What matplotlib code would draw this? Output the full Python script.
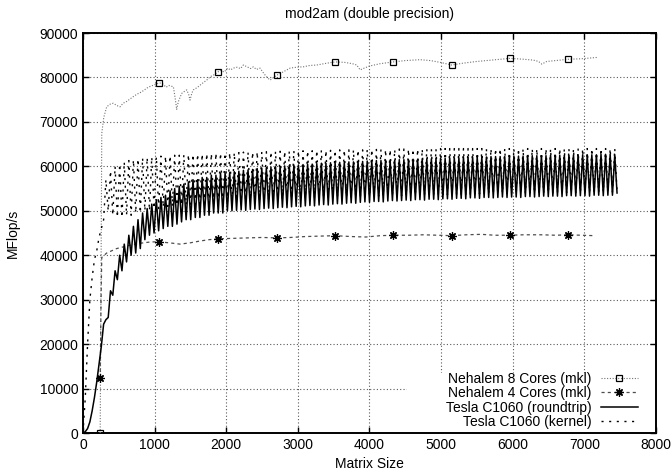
import numpy as np
import matplotlib
matplotlib.use("Agg")
import matplotlib.pyplot as plt
from matplotlib.patches import Rectangle

plt.rcParams["font.family"] = ["Liberation Sans", "DejaVu Sans"]
plt.rcParams["font.size"] = 10

# Nehalem 8 cores (mkl)
n8_size = [240, 250, 262, 290, 331, 380, 423, 470, 517, 560, 610, 660, 703, 750, 800,
           850, 890, 940, 990, 1066, 1110, 1160, 1200, 1262, 1290, 1308, 1330, 1378,
           1410, 1448, 1475, 1494, 1520, 1541, 1600, 1660, 1727, 1780, 1830, 1890,
           1930, 1970, 2020, 2060, 2099, 2150, 2200, 2239, 2290, 2340, 2379, 2420,
           2472, 2520, 2560, 2612, 2660, 2705, 2800, 2891, 2980, 3077, 3170, 3264,
           3400, 3520, 3650, 3760, 3822, 3869, 3940, 4008, 4150, 4334, 4500, 4707,
           4850, 4986, 5149, 5300, 5498, 5700, 5963, 6150, 6289, 6360, 6405, 6475,
           6600, 6778, 6950, 7175]
n8_mflops = [0, 30000, 67400, 71000, 73400, 74000, 74200, 73700, 73400, 74200, 74600,
             75200, 75700, 76200, 76600, 77100, 77600, 78000, 78300, 78800, 78600,
             77800, 78200, 77900, 75000, 72800, 74500, 76400, 76800, 77200, 76200,
             74900, 76500, 77200, 77800, 78600, 79400, 80200, 80600, 81300, 81600,
             81200, 82100, 81700, 82100, 82300, 82000, 82800, 82400, 82000, 82400,
             81800, 82100, 81000, 80200, 79400, 80000, 80500, 81300, 82100, 82300,
             82400, 82700, 82800, 83200, 83500, 83400, 83100, 82800, 81700, 82200,
             82600, 83100, 83500, 83800, 84000, 83800, 83400, 82800, 83200, 83600,
             83900, 84300, 84100, 83900, 83600, 83000, 83600, 83800, 84100, 84200,
             84500]

# Nehalem 4 cores (mkl)
n4_size = [240, 252, 262, 331, 470, 640, 800, 950, 1066, 1200, 1355, 1500, 1634, 1760,
           1890, 2100, 2300, 2500, 2705, 2900, 3100, 3300, 3520, 3750, 3950, 4150,
           4334, 4550, 4750, 4950, 5149, 5350, 5560, 5750, 5963, 6150, 6400, 6600,
           6778, 6950, 7150]
n4_mflops = [12300, 30000, 39500, 40500, 41500, 42200, 42700, 43000, 43000, 42800,
             42500, 42800, 43200, 43500, 43700, 43800, 43900, 44000, 43900, 44000,
             44200, 44300, 44400, 44200, 44100, 44400, 44500, 44500, 44600, 44500,
             44400, 44600, 44700, 44500, 44500, 44600, 44600, 44500, 44600, 44500,
             44400]

marked_sizes = [240, 1066, 1890, 2705, 3520, 4334, 5149, 5963, 6778]

# Tesla C1060, matrix sizes in steps of 32
tesla_size = np.arange(0, 7457, 32)
tesla_roundtrip = [
    0, 300, 1000, 2500, 5000, 8000, 11500, 15500, 19500, 24500, 25500, 26000, 32000, 31000, 36500, 34500,
    40000, 36500, 42500, 38500, 44500, 40000, 46500, 40500, 48000, 41500, 49500, 43500, 50500, 44500, 51500, 45000,
    52500, 45500, 53000, 46000, 53500, 46500, 54500, 46500, 55000, 47000, 55500, 47500, 56000, 48000, 56500, 48000,
    57000, 48500, 57000, 48500, 57500, 49000, 57500, 49000, 58000, 49500, 58000, 49500, 58500, 49500, 58500, 50000,
    58600, 50000, 58800, 50100, 58900, 50200, 59100, 50100, 59200, 50300, 59300, 50400, 59500, 50300, 59600, 50500,
    59700, 50600, 59800, 50500, 59900, 50700, 60000, 50800, 60100, 50700, 60200, 50900, 60300, 51000, 60300, 50900,
    60400, 51100, 60500, 51200, 60500, 51100, 60600, 51300, 60700, 51400, 60700, 51300, 60800, 51500, 60800, 51600,
    60900, 51500, 60900, 51700, 61000, 51800, 61000, 51700, 61100, 51900, 61100, 52000, 61200, 51900, 61200, 52100,
    61300, 52100, 61300, 52000, 61400, 52200, 61400, 52300, 61400, 52200, 61500, 52300, 61500, 52400, 61500, 52300,
    61600, 52500, 61600, 52500, 61700, 52400, 61700, 52600, 61700, 52600, 61800, 52500, 61800, 52700, 61800, 52700,
    61900, 52600, 61900, 52800, 61900, 52800, 62000, 52700, 62000, 52900, 62000, 52900, 62100, 52800, 62100, 53000,
    62100, 53000, 62200, 52900, 62200, 53000, 62200, 53100, 62200, 53000, 62300, 53100, 62300, 53100, 62300, 53000,
    62300, 53200, 62400, 53200, 62400, 53100, 62400, 53200, 62400, 53300, 62400, 53200, 62500, 53300, 62500, 53300,
    62500, 53200, 62500, 53400, 62500, 53400, 62600, 53300, 62600, 53400, 62600, 53400, 62600, 53300, 62600, 53500,
    62600, 53500, 62700, 53400, 62700, 53500, 62700, 53500, 62600, 54000,
]
tesla_kernel = [
    0, 8000, 20000, 30000, 35000, 39000, 41000, 44000, 46000, 48000, 57000, 50000, 59000, 49000, 60000, 48500,
    60500, 48500, 61000, 49000, 61300, 49000, 61500, 49500, 61700, 49500, 61900, 50000, 62000, 50000, 62100, 50500,
    62200, 50500, 62300, 50800, 62300, 51000, 62400, 51000, 62500, 51200, 62500, 51300, 62600, 51300, 62700, 51500,
    62700, 51500, 62800, 51600, 62800, 51700, 62900, 51700, 62900, 51800, 63000, 51900, 63000, 51900, 63000, 52000,
    63100, 52000, 63100, 52100, 63100, 52100, 63200, 52200, 63200, 52200, 63200, 52300, 63300, 52300, 63300, 52400,
    63300, 52400, 63300, 52500, 63400, 52500, 63400, 52500, 63400, 52600, 63400, 52600, 63500, 52700, 63500, 52700,
    63500, 52700, 63500, 52800, 63500, 52800, 63600, 52800, 63600, 52900, 63600, 52900, 63600, 52900, 63600, 53000,
    63700, 53000, 63700, 53000, 63700, 53100, 63700, 53100, 63700, 53100, 63700, 53200, 63800, 53200, 63800, 53200,
    63800, 53300, 63800, 53300, 63800, 53300, 63800, 53400, 63800, 53400, 63900, 53400, 63900, 53400, 63900, 53500,
    63900, 53500, 63900, 53500, 63900, 53500, 63900, 53600, 63900, 53600, 63900, 53600, 64000, 53600, 64000, 53600,
    64000, 53700, 64000, 53700, 64000, 53700, 64000, 53700, 64000, 53700, 64000, 53800, 64000, 53800, 64000, 53800,
    64000, 53800, 64000, 53800, 64000, 53800, 64000, 53900, 64000, 53900, 64000, 53900, 64000, 53900, 64000, 53900,
    64000, 53900, 64000, 54000, 64000, 54000, 64000, 54000, 64000, 54000, 64000, 54000, 64000, 54000, 64000, 54000,
    64000, 54000, 64000, 54100, 64000, 54100, 64000, 54100, 64000, 54100, 64000, 54100, 64000, 54100, 64000, 54100,
    64000, 54100, 64000, 54200, 64000, 54200, 64000, 54200, 64000, 54300,
]

x_ticks = [0, 1000, 2000, 3000, 4000, 5000, 6000, 7000, 8000]
y_ticks = [0, 10000, 20000, 30000, 40000, 50000, 60000, 70000, 80000, 90000]

fig = plt.figure(figsize=(6.72, 4.75), dpi=100)
ax = fig.add_axes([0.1235, 0.0884, 0.8527, 0.8421])

n8_marks = [i for i, s in enumerate(n8_size) if s in marked_sizes]
n4_marks = [i for i, s in enumerate(n4_size) if s in marked_sizes]

ax.plot(n8_size, n8_mflops, color="0.45", lw=0.8, ls=(0, (1, 1.5)),
        marker="s", ms=5, mfc="none", mec="black", mew=0.9, markevery=n8_marks,
        label="Nehalem 8 Cores (mkl)", zorder=3)
ax.plot(n4_size, n4_mflops, color="0.3", lw=0.9, ls=(0, (2.5, 2.5)),
        marker=(8, 2, 0), ms=6, mec="black", mew=0.9, markevery=n4_marks,
        label="Nehalem 4 Cores (mkl)", zorder=3)
ax.plot(tesla_size, tesla_roundtrip, color="black", lw=1.1,
        label="Tesla C1060 (roundtrip)", zorder=3)
ax.plot(tesla_size, tesla_kernel, color="black", lw=1.0, ls=(0, (1.5, 4)),
        label="Tesla C1060 (kernel)", zorder=3)

ax.set_xlim(0, 8000)
ax.set_ylim(0, 90000)
ax.set_xticks(x_ticks)
ax.set_yticks(y_ticks)
ax.grid(True, color="0.35", lw=0.8, ls=(0, (1, 2)))
ax.set_axisbelow(True)
ax.tick_params(direction="in", length=4, width=1, top=True, right=True, labelsize=10)
for sp in ax.spines.values():
    sp.set_linewidth(1.4)

# white key background hides the grid under the legend
ax.add_patch(Rectangle((0.566, 0.0), 0.434, 0.15, transform=ax.transAxes,
                       facecolor="white", edgecolor="none", zorder=1.5))

leg = ax.legend(loc="lower right", bbox_to_anchor=(0.975, 0.0), markerfirst=False,
                frameon=False, fontsize=10, handlelength=2.6, handletextpad=0.7,
                labelspacing=0.02, borderaxespad=0.15, borderpad=0.15)
leg.set_zorder(5)

ax.set_title("mod2am (double precision)", fontsize=10, pad=11)
ax.set_xlabel("Matrix Size", fontsize=10, labelpad=4)
ax.set_ylabel("MFlop/s", fontsize=10, labelpad=14)

fig.savefig("out.png", dpi=100)
